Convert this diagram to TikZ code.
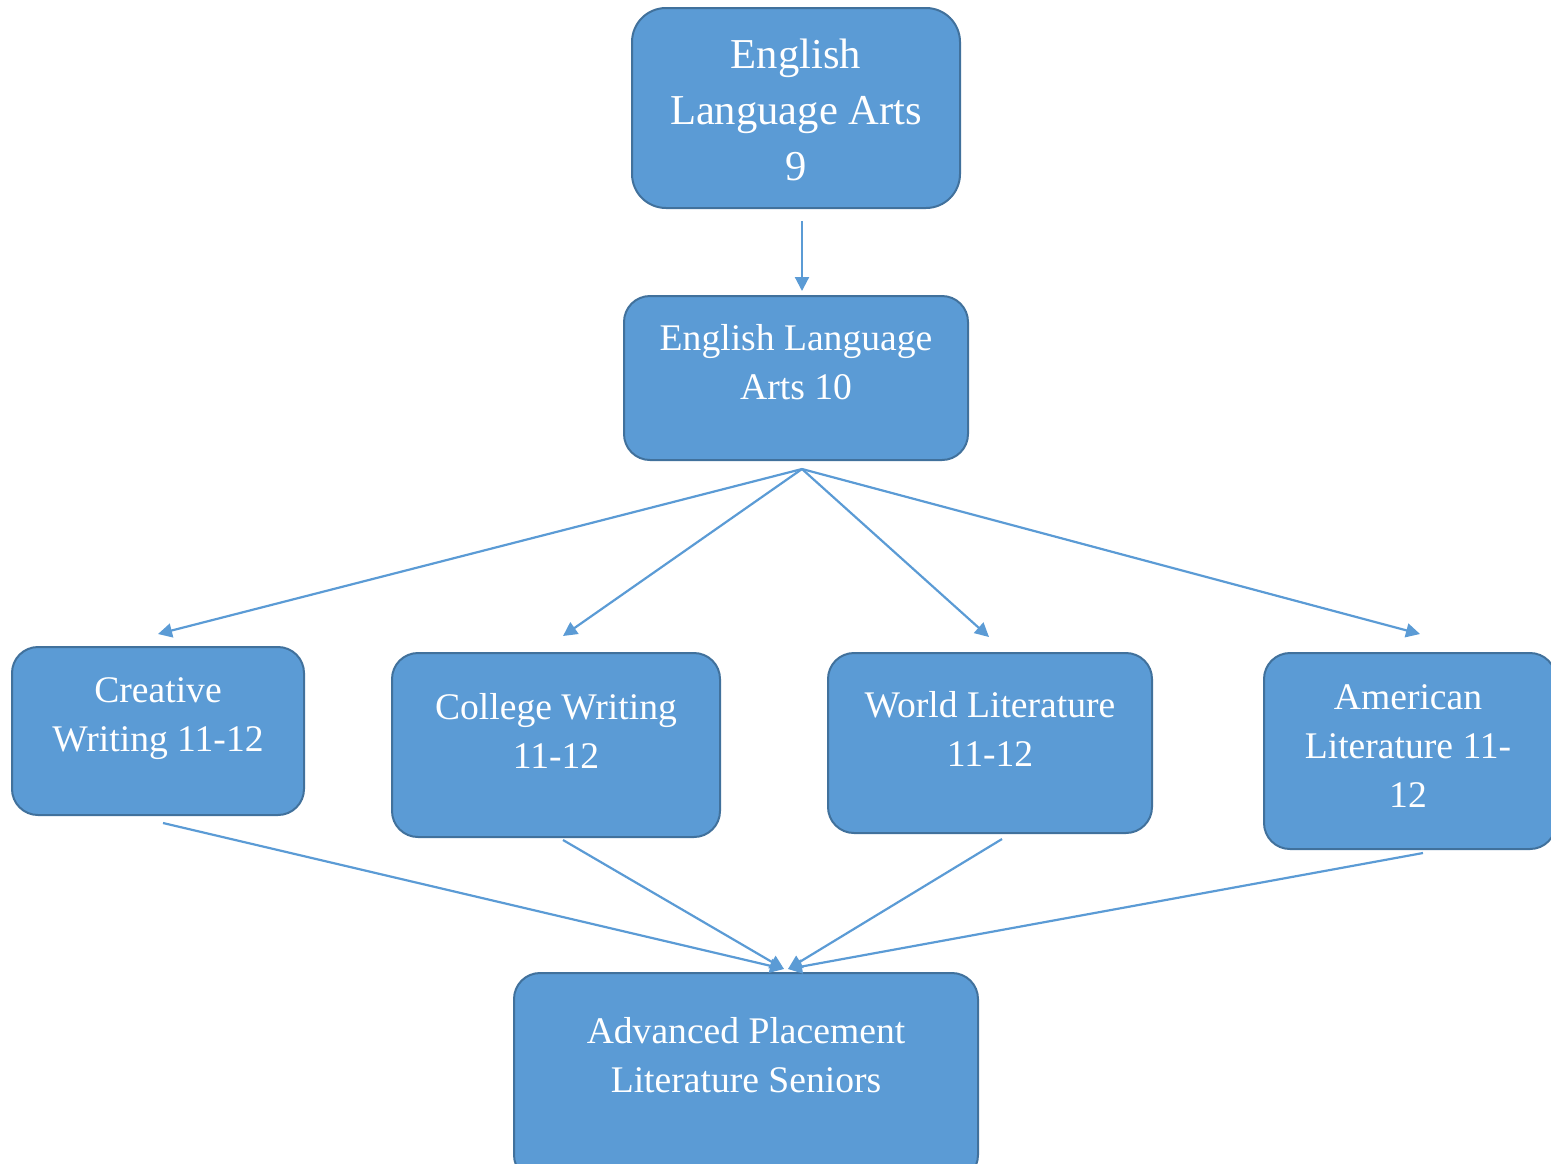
\documentclass[tikz,border=0pt]{standalone}
\usepackage{fontspec}
\setmainfont{Liberation Serif}
\usetikzlibrary{arrows.meta}
\definecolor{boxfill}{HTML}{5B9BD5}
\definecolor{boxline}{HTML}{41719C}
\tikzset{
x=0.5pt, y=-0.5pt, % pixel grid of the original layout
box/.style={rectangle, rounded corners=13pt, draw=boxline, fill=boxfill, line width=1pt}, % course boxes
txt/.style={text=white, align=center, inner sep=0pt}, % white course titles
big/.style={font=\fontsize{21.3}{28}\selectfont},
small/.style={font=\fontsize{18.8}{24.5}\selectfont},
link/.style={draw=boxfill, line width=1.1pt, -{Triangle[length=7pt,width=7pt]}}, % the arrows
}
\begin{document}
\begin{tikzpicture}
  \useasboundingbox (0,0) rectangle (1551,1163);

  \node[box, rounded corners=17pt, minimum width=164pt, minimum height=100pt] (ela9) at (796,108) {};
  \node[txt, big] (ela9t) at (796,110) {English\\Language Arts\\9};

  \node[box, minimum width=172pt, minimum height=82pt] (ela10) at (796,378) {};
  \node[txt, small] (ela10t) at (796,362) {English Language\\Arts 10};

  \node[box, minimum width=146pt, minimum height=84pt] (cw) at (158,731) {};
  \node[txt, small] (cwt) at (158,719) {Creative\\Writing 11-12};

  \node[box, minimum width=164pt, minimum height=92pt] (cl) at (556,745) {};
  \node[txt, small] (clt) at (556,731) {College Writing\\11-12};

  \node[box, minimum width=162pt, minimum height=90pt] (wl) at (990,743) {};
  \node[txt, small] (wlt) at (990,729) {World Literature\\11-12};

  \node[box, minimum width=146pt, minimum height=98pt] (al) at (1410,751) {};
  \node[txt, small] (alt) at (1408,746) {American\\Literature 11-\\12};

  \node[box, minimum width=232pt, minimum height=104pt] (ap) at (746,1077) {};
  \node[txt, small] (apt) at (746,1055) {Advanced Placement\\Literature Seniors};

  \draw[link, shorten <=6pt, shorten >=2pt] ([xshift=3pt]ela9.south) -- ([xshift=3pt]ela10.north);

  \draw[link] ([xshift=3pt,yshift=-4pt]ela10.south) -- ([yshift=6pt]cw.north);
  \draw[link] ([xshift=3pt,yshift=-4pt]ela10.south) -- ([xshift=3.5pt,yshift=8pt]cl.north);
  \draw[link] ([xshift=3pt,yshift=-4pt]ela10.south) -- ([xshift=-0.5pt,yshift=7.5pt]wl.north);
  \draw[link] ([xshift=3pt,yshift=-4pt]ela10.south) -- ([xshift=5pt,yshift=9pt]al.north);

  \draw[link] ([xshift=2.5pt,yshift=-3.5pt]cw.south) -- ([xshift=19pt,yshift=1.5pt]ap.north);
  \draw[link] ([xshift=3.5pt,yshift=-1pt]cl.south) -- ([xshift=19pt,yshift=1.5pt]ap.north);
  \draw[link] ([xshift=6pt,yshift=-2.5pt]wl.south) -- ([xshift=21pt,yshift=1.5pt]ap.north);
  \draw[link] ([xshift=6.5pt,yshift=-1.5pt]al.south) -- ([xshift=21pt,yshift=1.5pt]ap.north);

\end{tikzpicture}
\end{document}
